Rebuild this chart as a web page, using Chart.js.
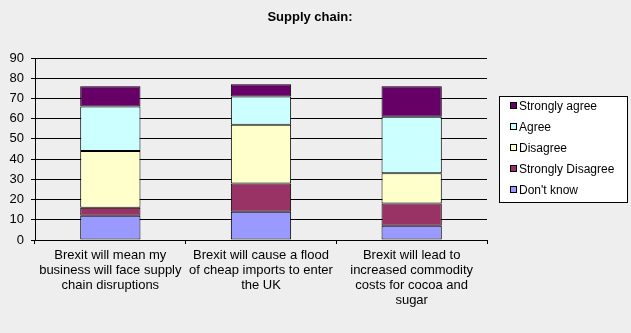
<!DOCTYPE html>
<html>
<head>
<meta charset="utf-8">
<script src="https://cdn.jsdelivr.net/npm/chart.js@4.4.0/dist/chart.umd.min.js"></script>
<style>
  html, body { margin: 0; padding: 0; background: #eeeeee; }
  #wrap { width: 631px; height: 333px; }
</style>
</head>
<body>
<div id="wrap"><canvas id="chart" width="631" height="333"></canvas></div>
<script>
const categories = [
  ["Brexit will mean my", "business will face supply", "chain disruptions"],
  ["Brexit will cause a flood", "of cheap imports to enter", "the UK"],
  ["Brexit will lead to", "increased commodity", "costs for cocoa and", "sugar"]
];
const dontKnow = [12, 14, 7];
const stronglyDisagree = [4, 14, 11];
const disagree = [28, 29, 15];
const agree = [22, 14, 28];
const stronglyAgree = [10, 6, 15];
const yTicks = [0, 10, 20, 30, 40, 50, 60, 70, 80, 90];

const FONT = "Arial, 'Liberation Sans', sans-serif";

// title + boxed legend, drawn by hand like the old excel chart
const decorations = {
  id: 'decorations',
  afterDraw(chart) {
    const ctx = chart.ctx;
    ctx.save();
    ctx.fillStyle = '#000';
    ctx.font = 'bold 13px ' + FONT;
    ctx.textAlign = 'center';
    ctx.textBaseline = 'middle';
    ctx.fillText('Supply chain:', 310, 17);

    const bx = 499, by = 96, bw = 128, bh = 106;
    ctx.fillStyle = '#ffffff';
    ctx.fillRect(bx, by, bw, bh);
    ctx.strokeStyle = '#000';
    ctx.lineWidth = 1;
    ctx.strokeRect(bx + 0.5, by + 0.5, bw, bh);

    const items = chart.data.datasets.slice().reverse();
    ctx.font = '12px ' + FONT;
    ctx.textAlign = 'left';
    items.forEach((ds, i) => {
      const y = 106 + i * 21;
      ctx.fillStyle = ds.backgroundColor;
      ctx.fillRect(510, y - 3, 6, 6);
      ctx.strokeStyle = '#000';
      ctx.strokeRect(510.5, y - 3.5, 6, 6);
      ctx.fillStyle = '#000';
      ctx.fillText(ds.label, 519, y + 1);
    });
    ctx.restore();
  }
};

const mk = (label, data, color) => ({
  label: label,
  data: data,
  backgroundColor: color,
  borderColor: '#000',
  borderWidth: 1,
  borderSkipped: false,
  barPercentage: 0.4,
  categoryPercentage: 1
});

new Chart(document.getElementById('chart'), {
  type: 'bar',
  data: {
    labels: categories,
    datasets: [
      mk("Don't know", dontKnow, '#9999ff'),
      mk('Strongly Disagree', stronglyDisagree, '#993366'),
      mk('Disagree', disagree, '#ffffcc'),
      mk('Agree', agree, '#ccffff'),
      mk('Strongly agree', stronglyAgree, '#660066')
    ]
  },
  options: {
    responsive: false,
    animation: false,
    layout: { padding: { left: 0, right: 144, top: 58, bottom: 0 } },
    plugins: {
      legend: { display: false },
      title: { display: false },
      tooltip: { enabled: false }
    },
    scales: {
      x: {
        stacked: true,
        afterFit: s => { s.height = 93; },
        grid: { drawOnChartArea: false, drawTicks: true, tickLength: 4, color: '#000', offset: true },
        border: { display: true, color: '#000' },
        ticks: { color: '#000', padding: 4, maxRotation: 0, font: { family: FONT, size: 13, lineHeight: '15px' } }
      },
      y: {
        stacked: true,
        min: 0,
        max: 90,
        afterFit: s => { s.width = 35; },
        afterBuildTicks: s => { s.ticks = yTicks.map(v => ({ value: v })); },
        grid: { color: '#000', tickLength: 4 },
        border: { display: true, color: '#000' },
        ticks: { color: '#000', padding: 7, font: { family: FONT, size: 13 } }
      }
    }
  },
  plugins: [decorations]
});
</script>
</body>
</html>
